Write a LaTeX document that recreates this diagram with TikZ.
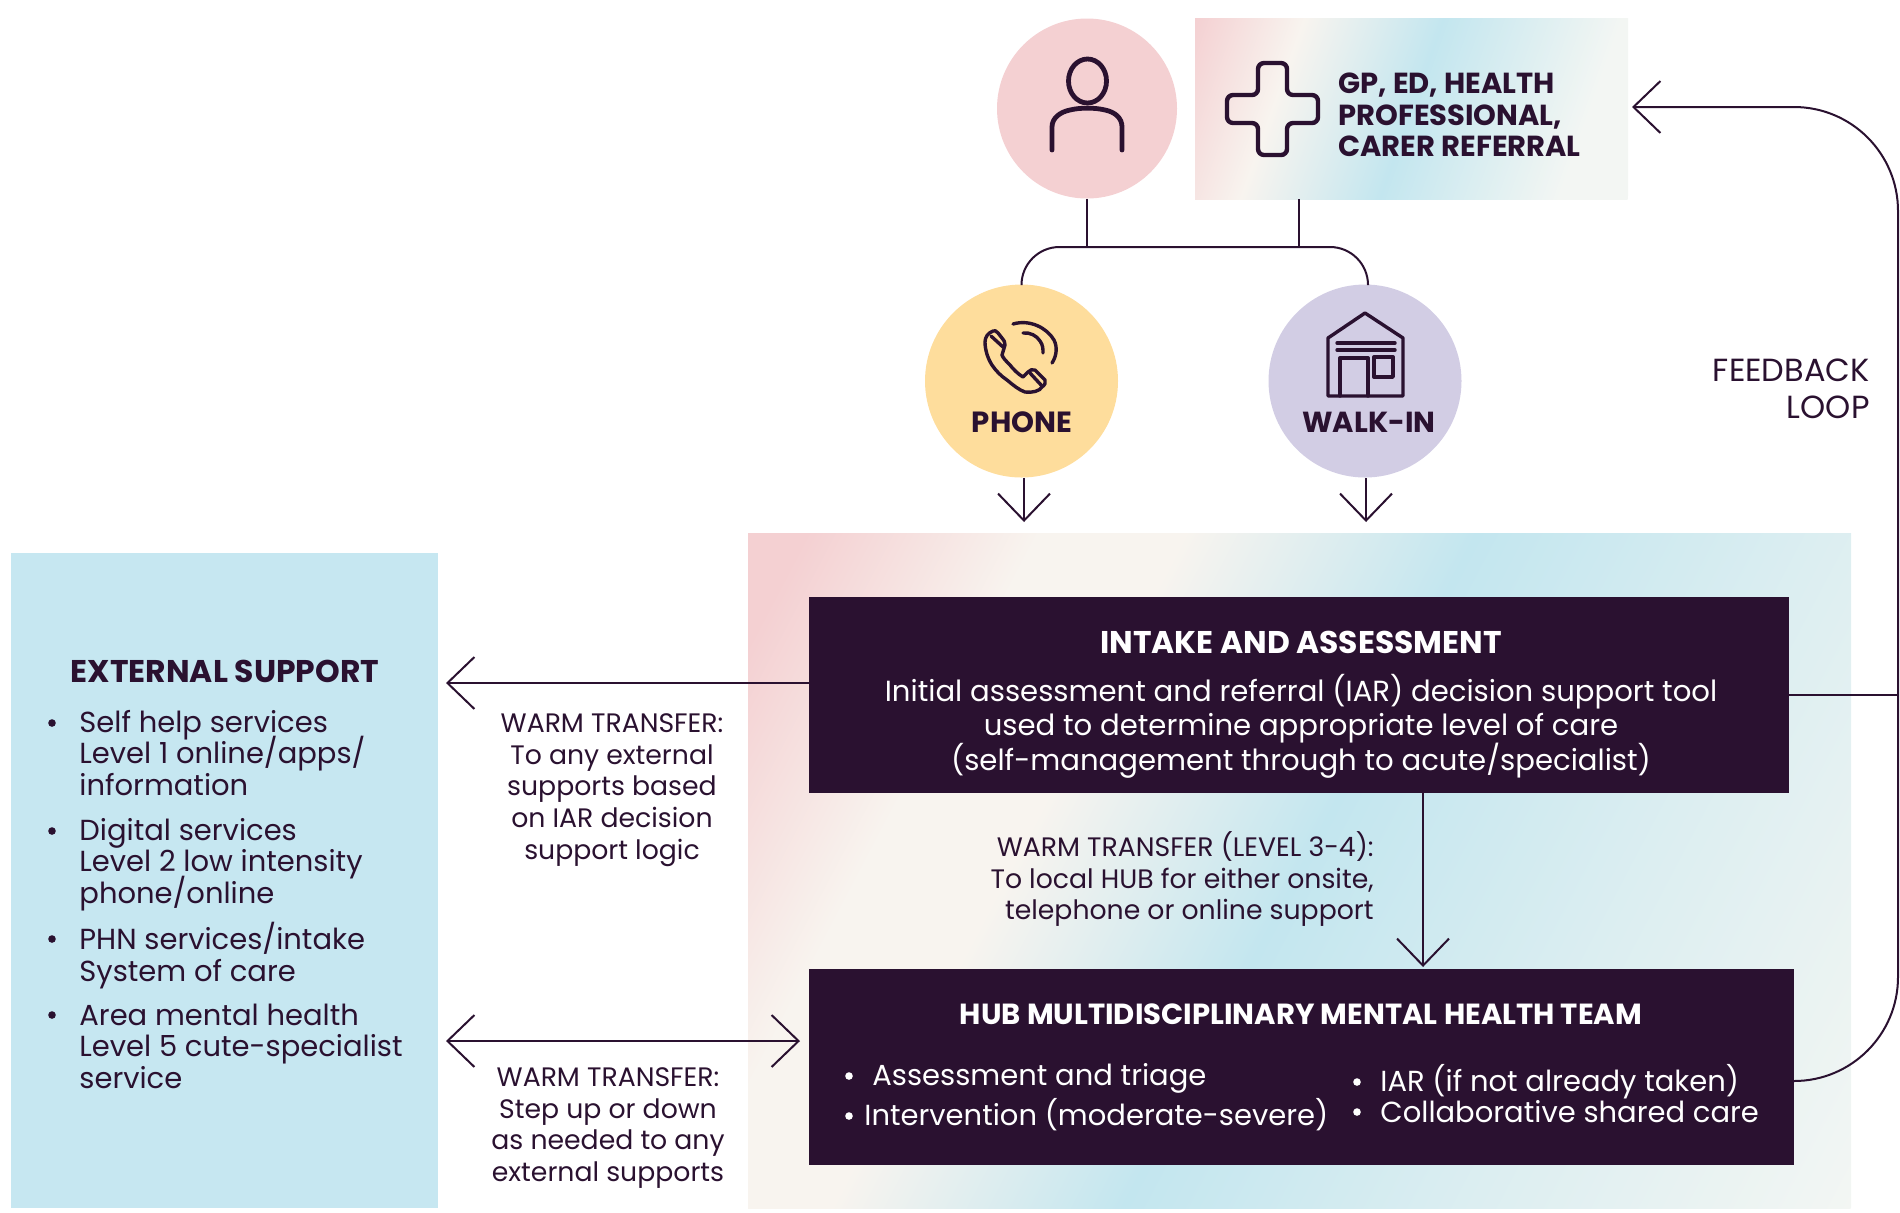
\documentclass[tikz,border=0pt]{standalone}
\usepackage{fontspec}
\setmainfont{Poppins}
\usetikzlibrary{arrows.meta}
\lineskiplimit=-30pt
\definecolor{ink}{HTML}{2A1130}
\definecolor{pk}{HTML}{F4D0D2}
\definecolor{wh}{HTML}{F8F4EF}
\definecolor{bl}{HTML}{C3E6EF}
\definecolor{pale}{HTML}{DCEEF1}
\definecolor{en}{HTML}{F3F6F3}
\definecolor{ext}{HTML}{C6E7F1}
\definecolor{ylw}{HTML}{FEDD9C}
\definecolor{lil}{HTML}{D2CDE4}
\pgfdeclarehorizontalshading{panelgrad}{100bp}{color(0bp)=(pk); color(27bp)=(pk); color(35bp)=(wh); color(40bp)=(wh); color(50bp)=(bl); color(62bp)=(pale); color(75bp)=(en); color(100bp)=(en)}
\pgfdeclarehorizontalshading{refgrad}{100bp}{color(0bp)=(pk); color(25bp)=(pk); color(36bp)=(wh); color(50bp)=(bl); color(68bp)=(en); color(100bp)=(en)}
\newcommand{\fs}[2]{\fontsize{#1}{#2}\selectfont\lineskiplimit=-30pt }
\tikzset{
  x=0.5pt,y=-0.5pt,
  conn/.style={draw=ink,line width=1pt},
  arr/.style={conn,-{Straight Barb[length=13.5pt,width=26pt,line width=1pt]}},
  darr/.style={conn,{Straight Barb[length=13.5pt,width=26pt,line width=1pt]}-{Straight Barb[length=13.5pt,width=26pt,line width=1pt]}},
  icon/.style={draw=ink,line width=2.4pt,line cap=round,line join=round},
  icont/.style={draw=ink,line width=1.7pt,line cap=round,line join=round},
  disc/.style={circle,inner sep=0pt},
  darkbox/.style={fill=ink,inner sep=0pt,minimum height=98pt},
  blank/.style={inner sep=0pt},
  ttl/.style={font=\fs{14.5}{16}\bfseries,text=ink,inner sep=0pt},
  body/.style={font=\fs{14.5}{15.75},text=ink,inner sep=0pt,anchor=base west,align=left},
  note/.style={font=\fs{13.35}{15.9},text=ink,inner sep=0pt},
  inv/.style={font=\fs{14.56}{17.2},text=white,inner sep=0pt},
  invh/.style={font=\fs{15.7}{16}\bfseries,text=white,inner sep=0pt},
  lst/.style={font=\fs{14.5}{16},text=white,inner sep=0pt,anchor=base west}
}
\begin{document}
\begin{tikzpicture}
\useasboundingbox (0,0) rectangle (1900,1212);
% panels
\begin{scope}
  \clip (748,533) rectangle (1851,1208);
  \begin{scope}[transform canvas={shift={(1299.5pt/2,-870.5pt/2)},rotate=-27.7}]
    \shade[shading=panelgrad] (-645,-1200) rectangle (645,1200);
  \end{scope}
\end{scope}
\node[fill=ext,inner sep=0pt,minimum width=213.5pt,minimum height=327.5pt] (ext) at (224.5,880.5) {};
% sources
\node[disc,fill=pk,minimum size=90pt] (person) at (1087,108.5) {};
\begin{scope}
  \clip (1195,18) rectangle (1628,199);
  \begin{scope}[transform canvas={shift={(1411.5pt/2,-108.5pt/2)},rotate=-19.5}]
    \shade[shading=refgrad] (-234,-600) rectangle (234,600);
  \end{scope}
\end{scope}
\node[blank,minimum width=216.5pt,minimum height=90.5pt] (ref) at (1411.5,108.5) {};
\node[disc,fill=ylw,minimum size=96.5pt] (phone) at (1021.5,381) {};
\node[disc,fill=lil,minimum size=96.5pt] (walk) at (1365,381) {};
% dark boxes
\node[darkbox,minimum width=490pt] (intake) at (1299,695) {};
\node[darkbox,minimum width=492.5pt] (hub) at (1301.5,1067) {};
\coordinate (extA) at (446,683);
\coordinate (extB) at (446,1041);
\coordinate (hubL) at (800,1041);
\coordinate (lineR) at (1898,695);
\coordinate (busY) at (1087,247);
\coordinate (busZ) at (1299,247);
\coordinate (phA) at (1024,522);
\coordinate (waA) at (1366,522);
\coordinate (hubT) at (1423,967);
\coordinate (refR) at (1632,107);
% connectors
\draw[conn] (person.south) -- (busY);
\draw[conn] (ref.south -| busZ) -- (busZ);
\draw[conn,rounded corners=19pt] (phone.north) -- (1021.5,247) -- (1368,247) -- ([xshift=1.5pt]walk.north);
\draw[arr] (phone.south -| phA) -- (phA);
\draw[arr] (walk.south -| waA) -- (waA);
\draw[arr] (intake.west |- extA) -- (extA);
\draw[darr] (extB) -- (hubL);
\draw[arr] (intake.south -| hubT) -- (hubT);
\draw[conn] (intake.east) -- (lineR);
\draw[arr,rounded corners=52pt] (hub.east |- 0,1081) -- (1898,1081) -- (1898,107) -- (refR);
% person icon
\draw[icon] (1087.5,81) ellipse (19 and 22);
\draw[icon] (1052,150) -- (1052,127) .. controls (1052,118) and (1060,112) .. (1070,110) .. controls (1080,107.5) and (1095,107.5) .. (1105,110) .. controls (1115,112) and (1122,118) .. (1122,127) -- (1122,150);
% cross icon
\draw[icon,line width=2.2pt,rounded corners=3pt] (1258,63) -- (1287,63) -- (1287,95) -- (1318,95) -- (1318,123) -- (1287,123) -- (1287,155) -- (1258,155) -- (1258,123) -- (1227,123) -- (1227,95) -- (1258,95) -- cycle;
% phone icon
\draw[icont] (993,331) .. controls (988,333) and (985,337) .. (985,342) .. controls (985,350) and (988,359) .. (992,365) .. controls (996,371) and (1001,376) .. (1007,380) .. controls (1013,385) and (1019,390) .. (1025,392) .. controls (1032,393) and (1040,391) .. (1042,387) .. controls (1045,385) and (1046,382) .. (1045,380) -- (1035,370) .. controls (1032,369) and (1030,370) .. (1028,372) -- (1023,377) .. controls (1018,374) and (1013,369) .. (1010,365) .. controls (1006,361) and (1003,358) .. (1002,355) -- (1005,345) .. controls (1005,342) and (1004,340) .. (1002,338) -- (998,333) .. controls (996,331) and (995,330) .. (993,331) -- cycle;
\draw[icont] (991,336) -- (1003,347);
\draw[icont] (1030,373) -- (1042,386);
\draw[icont] (1013,324) .. controls (1030,319) and (1047,328) .. (1054,340) .. controls (1058,348) and (1056,357) .. (1052,363);
\draw[icont] (1023,333) .. controls (1030,332) and (1037,336) .. (1040,341) .. controls (1043,345) and (1043,349) .. (1043,353);
% house icon
\draw[icont] (1328,396) -- (1328,338) -- (1365,313) -- (1403,338) -- (1403,396) -- cycle;
\draw[icont] (1337,343) -- (1395,343) (1337,350) -- (1395,350);
\draw[icont] (1340,396) -- (1340,358) -- (1368,358) -- (1368,396);
\draw[icont] (1374,357) rectangle (1393,377);
% labels
\node[ttl,align=left,anchor=west,font=\fs{14.5}{15.8}\bfseries] (reflbl) at (1338,115) {GP, ED, HEALTH\\PROFESSIONAL,\\CARER REFERRAL};
\node[ttl,font=\fs{14.6}{16}\bfseries] (ph) at (1022,422) {PHONE};
\node[ttl] (wa) at (1369,422) {WALK-IN};
\node[note,font=\fs{16}{18.6},align=right,anchor=east] (fb) at (1870,389) {FEEDBACK\\LOOP};
\node[ttl,font=\fs{15.7}{16}\bfseries] (exth) at (225,671) {EXTERNAL SUPPORT};
\node[body] (b1) at (79,795) {Self help services\\Level 1 online/apps/\\information};
\node[body] (b2) at (79,903) {Digital services\\Level 2 low intensity\\phone/online};
\node[body] (b3) at (79,981) {PHN services/intake\\System of care};
\node[body] (b4) at (79,1088) {Area mental health\\Level 5 cute-specialist\\service};
\foreach \y in {723,831,939,1015}
  \fill[ink] (52,\y) circle (1.9pt);
\node[note,align=center] (w1) at (612,790) {WARM TRANSFER:\\To any external\\supports based\\on IAR decision\\support logic};
\node[note,align=center] (w2) at (608,1128) {WARM TRANSFER:\\Step up or down\\as needed to any\\external supports};
\node[note,align=right,anchor=east] (w3) at (1374,879) {WARM TRANSFER (LEVEL 3-4):\\To local HUB for either onsite,\\telephone or online support};
\node[invh] (ih) at (1301,642) {INTAKE AND ASSESSMENT};
\node[inv,align=center] (ib) at (1301,726) {Initial assessment and referral (IAR) decision support tool\\used to determine appropriate level of care\\(self-management through to acute/specialist)};
\node[invh,font=\fs{14.55}{16}\bfseries] (hh) at (1301,1014) {HUB MULTIDISCIPLINARY MENTAL HEALTH TEAM};
\node[lst] (h1) at (872,1085) {Assessment and triage};
\node[lst] (h2) at (864,1125) {Intervention (moderate-severe)};
\node[lst] (h3) at (1380,1091) {IAR (if not already taken)};
\node[lst] (h4) at (1380,1122) {Collaborative shared care};
\fill[white] (849,1076) circle (1.9pt);
\fill[white] (849,1116) circle (1.9pt);
\fill[white] (1357,1082) circle (1.9pt);
\fill[white] (1357,1112) circle (1.9pt);
\end{tikzpicture}
\end{document}
